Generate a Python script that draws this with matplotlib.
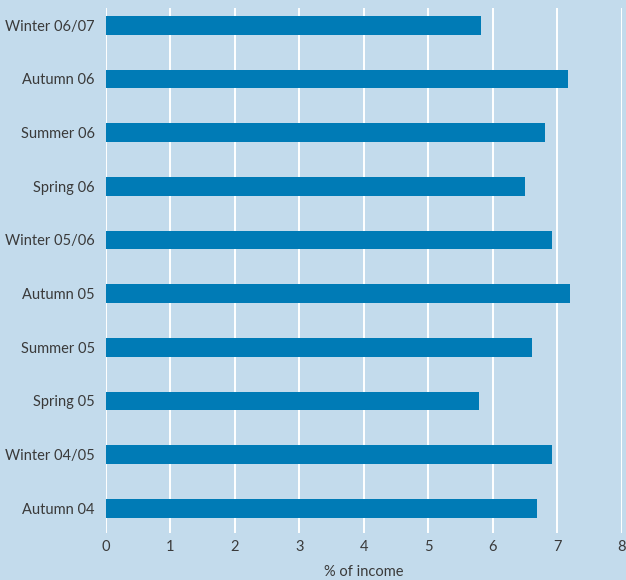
import matplotlib.pyplot as plt

plt.rcParams['font.family'] = ['Lato', 'DejaVu Sans']

seasons = ['Autumn 04', 'Winter 04/05', 'Spring 05', 'Summer 05', 'Autumn 05',
           'Winter 05/06', 'Spring 06', 'Summer 06', 'Autumn 06', 'Winter 06/07']
pct_income = [6.68, 6.91, 5.78, 6.60, 7.19, 6.91, 6.50, 6.81, 7.16, 5.81]
xticks = [0, 1, 2, 3, 4, 5, 6, 7, 8]

bg = '#c3dbec'
fig = plt.figure(figsize=(6.26, 5.8), dpi=100, facecolor=bg)
ax = fig.add_axes([0.1693, 0.081, 0.8243, 0.905], facecolor=bg)

ypos = range(len(seasons))
ax.barh(ypos, pct_income, height=0.35, color='#007bb6', zorder=3)

ax.set_xlim(0, 8)
ax.set_ylim(-0.46, 9.32)
ax.set_xticks(xticks)
ax.set_yticks(list(ypos))
ax.set_yticklabels(seasons)
ax.xaxis.grid(True, color='white', lw=1.4, zorder=0)
ax.set_axisbelow(True)
for s in ax.spines.values():
    s.set_visible(False)
ax.tick_params(length=0, labelsize=10.5, colors='#3a3a3a')
ax.tick_params(axis='x', pad=5)
ax.tick_params(axis='y', pad=8)
ax.set_xlabel('% of income', fontsize=10.5, color='#3a3a3a', labelpad=8)

fig.savefig('out.png', dpi=100, facecolor=bg)
